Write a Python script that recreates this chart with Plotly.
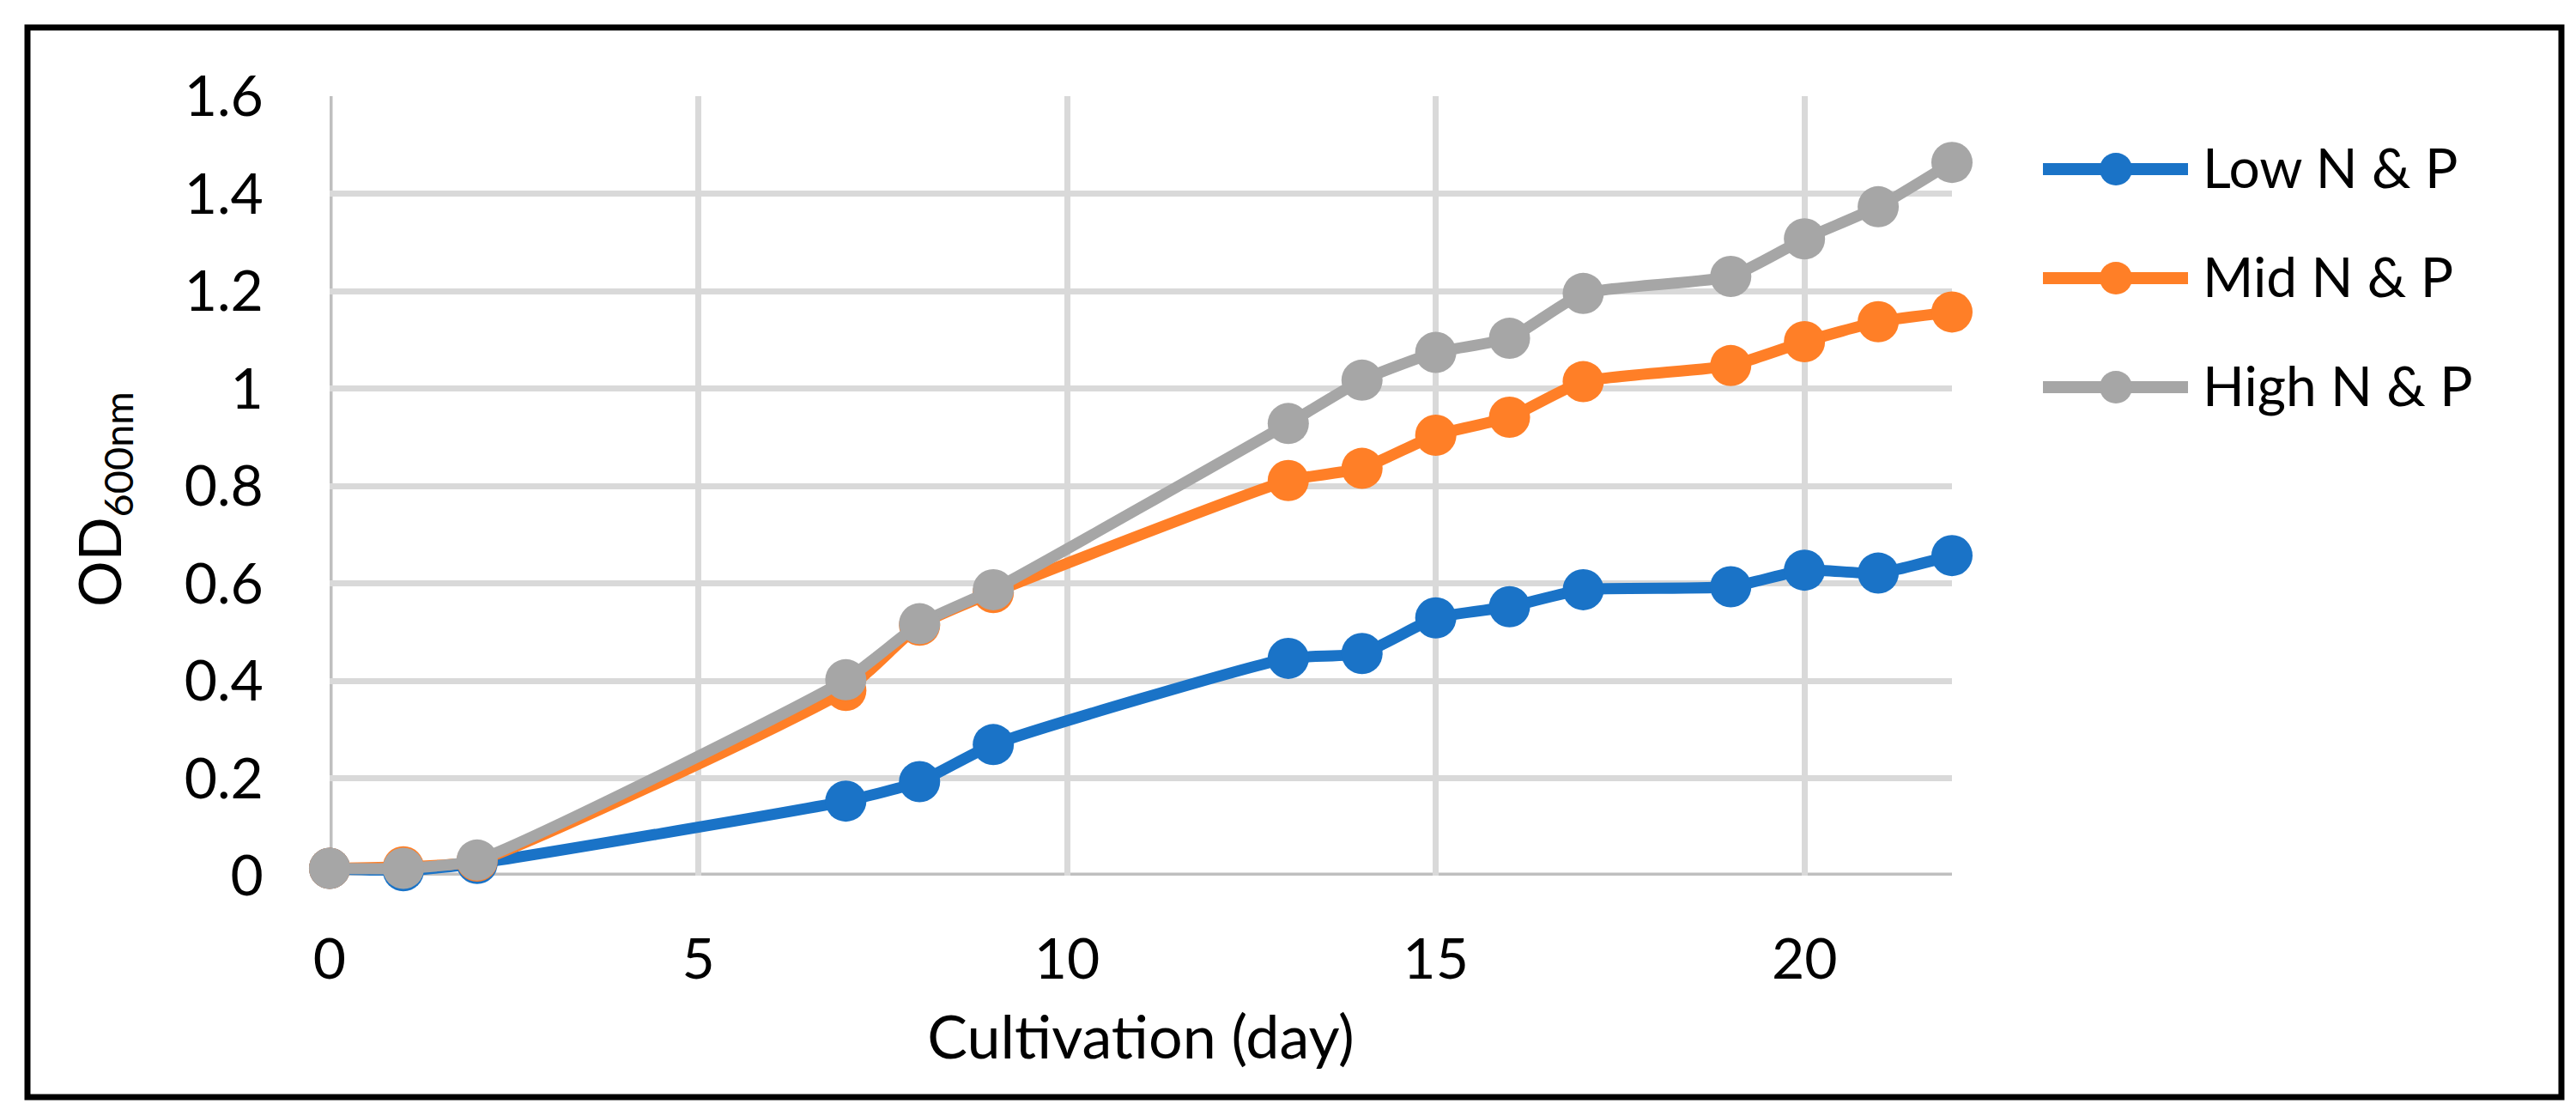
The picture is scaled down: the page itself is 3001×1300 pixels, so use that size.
import plotly.graph_objects as go

days = [0, 1, 2, 7, 8, 9, 13, 14, 15, 16, 17, 19, 20, 21, 22]
low_np = [0.015, 0.010, 0.025, 0.153, 0.193, 0.269, 0.446, 0.456, 0.529, 0.552, 0.587, 0.593, 0.627, 0.621, 0.657]
mid_np = [0.015, 0.018, 0.030, 0.380, 0.514, 0.581, 0.811, 0.836, 0.904, 0.941, 1.014, 1.047, 1.096, 1.137, 1.157]
high_np = [0.015, 0.015, 0.032, 0.402, 0.517, 0.587, 0.928, 1.017, 1.074, 1.103, 1.195, 1.230, 1.307, 1.373, 1.464]

series_names = ["Low N & P", "Mid N & P", "High N & P"]
series_values = [low_np, mid_np, high_np]
series_colors = ["#1A73C7", "#FF7F27", "#A6A6A6"]

FONT = "Lato, 'Liberation Sans', sans-serif"

L, R, T, B = 376, 735, 104, 288
W, H = 3001, 1300
pw = W - L - R
ph = H - T - B


def px_x(p):
    return (p - L) / pw


def px_y(p):
    return (H - B - p) / ph


fig = go.Figure()
for name, vals, col in zip(series_names, series_values, series_colors):
    fig.add_trace(go.Scatter(
        x=days, y=vals, name=name,
        mode="lines+markers",
        line=dict(color=col, width=13, shape="spline", smoothing=0.5),
        marker=dict(color=col, size=48, line=dict(width=0)),
        cliponaxis=False,
        showlegend=False,
    ))

shapes = [
    dict(type="line", xref="x", yref="paper", x0=0, x1=0, y0=0, y1=1,
         line=dict(color="#BFBFBF", width=7), layer="below"),
    dict(type="line", xref="paper", yref="y", x0=0, x1=1, y0=0, y1=0,
         line=dict(color="#BFBFBF", width=7), layer="below"),
    dict(type="rect", xref="paper", yref="paper",
         x0=px_x(24), x1=px_x(2976), y0=px_y(1270), y1=px_y(24),
         line=dict(color="black", width=7), fillcolor="rgba(0,0,0,0)"),
]
annotations = [
    dict(text="OD<sub>600nm</sub>", textangle=-90, xref="paper", yref="paper",
         x=px_x(112), y=px_y(574), xanchor="center", yanchor="middle",
         showarrow=False, font=dict(family=FONT, size=67, color="black")),
]

# legend (drawn as layout decoration)
leg_x0, leg_x1, leg_cx, leg_text_x = 2372, 2541, 2457, 2556
leg_y0, leg_dy, leg_r = 189, 127, 19
for i, (name, col) in enumerate(zip(series_names, series_colors)):
    yc = leg_y0 + i * leg_dy
    shapes.append(dict(type="line", xref="paper", yref="paper",
                       x0=px_x(leg_x0), x1=px_x(leg_x1), y0=px_y(yc), y1=px_y(yc),
                       line=dict(color=col, width=14)))
    shapes.append(dict(type="circle", xref="paper", yref="paper",
                       x0=px_x(leg_cx - leg_r), x1=px_x(leg_cx + leg_r),
                       y0=px_y(yc + leg_r), y1=px_y(yc - leg_r),
                       line=dict(width=0), fillcolor=col))
    annotations.append(dict(text=name, xref="paper", yref="paper",
                            x=px_x(leg_text_x), y=px_y(yc - 3),
                            xanchor="left", yanchor="middle", showarrow=False,
                            font=dict(family=FONT, size=64, color="black")))

fig.update_layout(
    width=W, height=H,
    margin=dict(l=L, r=R, t=T, b=B, autoexpand=False),
    paper_bgcolor="white", plot_bgcolor="white",
    font=dict(family=FONT, color="black", size=66),
    showlegend=False,
    xaxis=dict(
        range=[0, 22], dtick=5, tick0=0,
        showgrid=True, gridcolor="#D9D9D9", gridwidth=7,
        showline=False, zeroline=False,
        ticks="outside", ticklen=40, tickcolor="rgba(0,0,0,0)",
        tickfont=dict(family=FONT, size=66),
        title=dict(text="Cultivation (day)", font=dict(family=FONT, size=70), standoff=30),
    ),
    yaxis=dict(
        range=[0, 1.6], dtick=0.2, tick0=0,
        showgrid=True, gridcolor="#D9D9D9", gridwidth=7,
        showline=False, zeroline=False,
        ticks="outside", ticklen=63, tickcolor="rgba(0,0,0,0)",
        tickfont=dict(family=FONT, size=66),
    ),
    shapes=shapes,
    annotations=annotations,
)

fig.write_html("out.html")
